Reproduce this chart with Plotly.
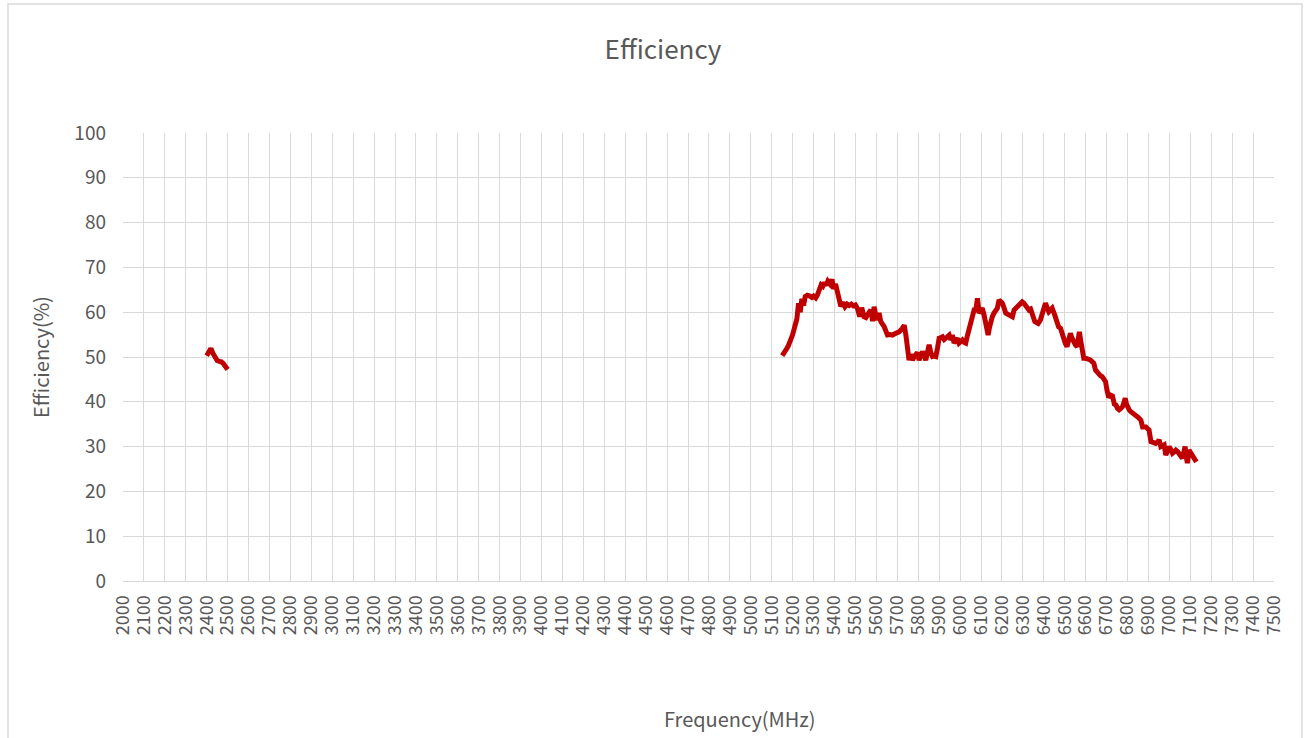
import plotly.graph_objects as go

# Band 1 (2.4 GHz)
freq_low = [2400, 2410, 2420, 2430, 2440, 2450, 2460, 2470, 2480, 2490, 2500]
eff_low = [50.3, 51.2, 51.9, 50.8, 49.9, 49.2, 49.0, 48.9, 48.5, 47.8, 47.2]

# Band 2 (5-7 GHz)
freq_high = [
    5150, 5160, 5172, 5180, 5190, 5200, 5210, 5220, 5228, 5236, 5244, 5252, 5260, 5270, 5282, 5292,
    5300, 5310, 5318, 5326, 5336, 5344, 5352, 5360, 5368, 5378, 5388, 5395, 5405, 5414, 5423, 5430,
    5440, 5450, 5460, 5470, 5480, 5490, 5500, 5510, 5520, 5530, 5541, 5550, 5560, 5573, 5582, 5589,
    5597, 5605, 5613, 5621, 5637, 5653, 5665, 5677, 5693, 5709, 5724, 5733, 5741, 5748, 5756, 5764,
    5772, 5780, 5788, 5796, 5804, 5812, 5820, 5828, 5836, 5844, 5852, 5860, 5868, 5876, 5884, 5892,
    5900, 5908, 5916, 5924, 5932, 5939, 5948, 5956, 5963, 5971, 5979, 5987, 5995, 6003, 6011, 6019,
    6027, 6035, 6043, 6051, 6059, 6067, 6075, 6083, 6091, 6099, 6106, 6114, 6123, 6134, 6140, 6146,
    6154, 6162, 6170, 6178, 6186, 6194, 6202, 6210, 6218, 6226, 6234, 6242, 6250, 6258, 6266, 6273,
    6285, 6297, 6305, 6313, 6321, 6329, 6337, 6345, 6357, 6365, 6373, 6384, 6395, 6402, 6408, 6416,
    6424, 6432, 6440, 6452, 6463, 6471, 6480, 6488, 6495, 6503, 6511, 6519, 6527, 6535, 6543, 6551,
    6559, 6570, 6577, 6583, 6591, 6599, 6607, 6615, 6623, 6631, 6639, 6647, 6655, 6663, 6671, 6679,
    6687, 6695, 6702, 6710, 6719, 6728, 6737, 6745, 6752, 6760, 6768, 6776, 6783, 6789, 6795, 6800,
    6808, 6816, 6828, 6840, 6852, 6864, 6872, 6880, 6888, 6896, 6903, 6912, 6920, 6928, 6935, 6943,
    6951, 6959, 6967, 6975, 6983, 6991, 6999, 7007, 7015, 7023, 7031, 7039, 7047, 7055, 7062, 7068,
    7075, 7080, 7086, 7094, 7102, 7110, 7120, 7129,
]
eff_high = [
    50.3, 50.9, 51.9, 52.6, 53.6, 55.0, 56.8, 58.5, 62.0, 60.0, 63.0, 61.5, 63.5, 63.8, 63.6, 63.3,
    63.6, 63.2, 63.8, 65.3, 66.1, 65.8, 66.6, 66.0, 66.9, 66.3, 67.3, 65.2, 66.3, 64.5, 62.8, 61.3,
    62.2, 61.2, 61.8, 61.5, 61.8, 61.4, 61.6, 60.8, 59.0, 61.0, 59.0, 58.8, 59.6, 60.5, 58.0, 61.2,
    59.4, 58.3, 59.8, 57.9, 56.8, 54.9, 55.0, 54.9, 55.3, 55.6, 56.4, 57.1, 54.9, 52.3, 49.3, 50.6,
    49.3, 50.0, 50.4, 51.0, 49.3, 50.0, 51.2, 50.5, 49.3, 51.0, 52.7, 51.0, 50.1, 50.2, 50.1, 52.0,
    54.2, 54.3, 54.5, 53.9, 54.2, 54.5, 54.9, 53.8, 54.9, 53.1, 53.9, 54.2, 53.1, 53.5, 53.8, 53.3,
    53.1, 54.8, 56.4, 58.5, 60.1, 60.5, 60.5, 63.1, 59.8, 60.4, 60.9, 59.5, 57.9, 54.9, 56.5, 57.9,
    59.0, 59.8, 60.3, 60.9, 62.7, 62.2, 62.0, 61.0, 59.8, 59.6, 59.4, 59.2, 59.0, 60.5, 60.9, 61.2,
    61.8, 62.3, 62.0, 61.6, 61.0, 60.5, 60.7, 59.5, 57.9, 57.7, 57.5, 58.3, 60.5, 61.5, 62.0, 61.0,
    60.1, 60.5, 60.9, 59.4, 57.1, 56.7, 56.4, 55.0, 53.8, 53.0, 52.3, 53.8, 55.3, 54.2, 53.1, 52.7,
    52.3, 55.6, 53.5, 51.9, 49.7, 49.7, 49.7, 49.5, 49.3, 49.0, 48.6, 47.1, 46.5, 46.0, 45.8, 45.6,
    45.0, 44.5, 42.6, 41.0, 41.5, 41.3, 39.5, 39.3, 38.5, 38.2, 38.5, 38.9, 39.8, 40.8, 39.5, 38.6,
    38.2, 37.8, 37.4, 37.1, 36.5, 35.9, 34.4, 34.4, 34.4, 34.0, 33.7, 31.1, 31.0, 30.8, 30.7, 31.0,
    31.5, 30.0, 30.2, 30.4, 28.1, 29.0, 30.0, 29.3, 28.5, 28.8, 29.2, 28.9, 28.5, 28.0, 27.4, 28.5,
    30.0, 28.0, 26.3, 29.2, 28.6, 28.1, 27.3, 26.6,
]

x_ticks = list(range(2000, 7501, 100))
y_ticks = list(range(0, 101, 10))

FONT = "Noto Sans CJK SC"
GRAY = "#595959"
GRID = "#d9d9d9"
LINE = "#c00000"

fig = go.Figure()
fig.add_trace(go.Scatter(x=freq_low, y=eff_low, mode="lines",
                         line=dict(color=LINE, width=5), showlegend=False))
fig.add_trace(go.Scatter(x=freq_high, y=eff_high, mode="lines",
                         line=dict(color=LINE, width=5), showlegend=False))

L, R, T, B = 123, 36, 133, 157
W, H = 1310, 738
pw, ph = W - L - R, H - T - B

fig.update_layout(
    width=W, height=H,
    margin=dict(l=L, r=R, t=T, b=B),
    paper_bgcolor="white", plot_bgcolor="white",
    font=dict(family=FONT, color=GRAY),
    title=dict(text="Efficiency", x=663 / W, xref="container", xanchor="center",
               y=(H - 50) / H, yanchor="middle", yref="container",
               font=dict(size=26, color=GRAY, family=FONT)),
    xaxis=dict(range=[2000, 7500], tickvals=x_ticks, ticktext=[str(v) for v in x_ticks],
               tickangle=-90, tickfont=dict(size=18, color=GRAY),
               showgrid=True, gridcolor=GRID, gridwidth=1,
               showline=True, linecolor=GRID, linewidth=1,
               zeroline=False, ticks="", ticklabelstandoff=6),
    yaxis=dict(range=[0, 100], tickvals=y_ticks, tickfont=dict(size=19, color=GRAY),
               showgrid=True, gridcolor=GRID, gridwidth=1,
               showline=False, zeroline=False, ticks="", ticklabelstandoff=16),
    annotations=[
        dict(text="Frequency(MHz)", xref="paper", yref="paper",
             x=(740 - L) / pw, y=-(718 - (T + ph)) / ph,
             xanchor="center", yanchor="middle", showarrow=False,
             font=dict(size=20, color=GRAY, family=FONT)),
        dict(text="Efficiency(%)", xref="paper", yref="paper",
             x=(40 - L) / pw, y=(T + ph - 357) / ph, textangle=-90,
             xanchor="center", yanchor="middle", showarrow=False,
             font=dict(size=20, color=GRAY, family=FONT)),
    ],
    shapes=[
        dict(type="rect", xref="paper", yref="paper",
             x0=(8 - L) / pw, x1=(1302 - L) / pw,
             y0=(T + ph - 760) / ph, y1=(T + ph - 4) / ph,
             line=dict(color=GRID, width=1.5), fillcolor="rgba(0,0,0,0)", layer="below"),
    ],
)

fig.write_html("out.html", config={"displayModeBar": False},
               post_script="document.body.style.margin='0px';")
